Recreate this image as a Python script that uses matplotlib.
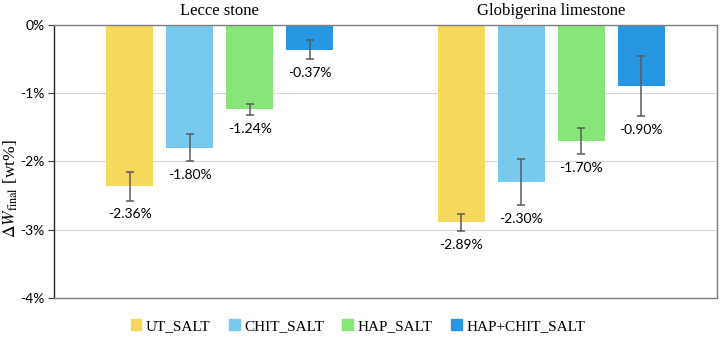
import numpy as np
from matplotlib import pyplot as plt
from matplotlib.patches import Patch

plt.rcParams["mathtext.fontset"] = "stix"

# data (wt% change)
stones = ["Lecce stone", "Globigerina limestone"]
treatments = ["UT_SALT", "CHIT_SALT", "HAP_SALT", "HAP+CHIT_SALT"]
values = {
    "UT_SALT": [-2.36, -2.89],
    "CHIT_SALT": [-1.80, -2.30],
    "HAP_SALT": [-1.24, -1.70],
    "HAP+CHIT_SALT": [-0.37, -0.90],
}
errors = {
    "UT_SALT": [0.21, 0.13],
    "CHIT_SALT": [0.20, 0.33],
    "HAP_SALT": [0.08, 0.19],
    "HAP+CHIT_SALT": [0.14, 0.44],
}
colors = ["#F5D85C", "#77CAEE", "#88E57A", "#2797E2"]

fig = plt.figure(figsize=(7.2, 3.38), dpi=100)
ax = fig.add_axes([0.075, 0.117, 0.921, 0.8105])

x = np.arange(len(stones))
width = 0.142
step = 0.181
for i, t in enumerate(treatments):
    pos = x + (i - 1.5) * step
    ax.bar(pos, values[t], width, color=colors[i], zorder=2)
    ax.errorbar(pos, values[t], yerr=errors[t], fmt="none", ecolor="#5a5a5a",
                elinewidth=1.1, capsize=3, capthick=1.1, zorder=3)
    for p, v, e in zip(pos, values[t], errors[t]):
        ax.annotate(f"{v:.2f}%", (p, v - e), xytext=(0, -10), textcoords="offset points",
                    ha="center", va="center", fontsize=10, family="Lato")

ax.set_xlim(-0.5, 1.5)
ax.set_ylim(-4, 0)
ax.set_yticks([0, -1, -2, -3, -4])
ax.set_yticklabels(["0%", "-1%", "-2%", "-3%", "-4%"], family="Lato", fontsize=10)
ax.set_xticks([])
ax.grid(axis="y", color="#d9d9d9", linewidth=0.8, zorder=0)
ax.set_axisbelow(True)
ax.tick_params(axis="y", length=4, color="#404040", pad=3)

for s in ["top", "right", "bottom"]:
    ax.spines[s].set_color("#7f7f7f")
    ax.spines[s].set_linewidth(1.0)
ax.spines["left"].set_color("#262626")
ax.spines["left"].set_linewidth(1.0)

for xi, name in zip(x, stones):
    ax.annotate(name, (xi, 1.0), xycoords=("data", "axes fraction"), xytext=(0, 10),
                textcoords="offset points", ha="center", va="center",
                fontsize=12, family="Liberation Serif")

ax.set_ylabel(r"$\Delta W_{\mathrm{final}}$ [wt%]", family="Liberation Serif", fontsize=12.5)
ax.yaxis.set_label_coords(-0.052, 0.40)

handles = [Patch(color=c) for c in colors]
fig.legend(handles, treatments, loc="center", bbox_to_anchor=(0.497, 0.035), ncol=4,
           frameon=False, prop={"family": "Liberation Serif", "size": 11},
           handlelength=0.7, handleheight=0.7, handletextpad=0.3, columnspacing=1.2)

plt.savefig("out.png", dpi=100)
